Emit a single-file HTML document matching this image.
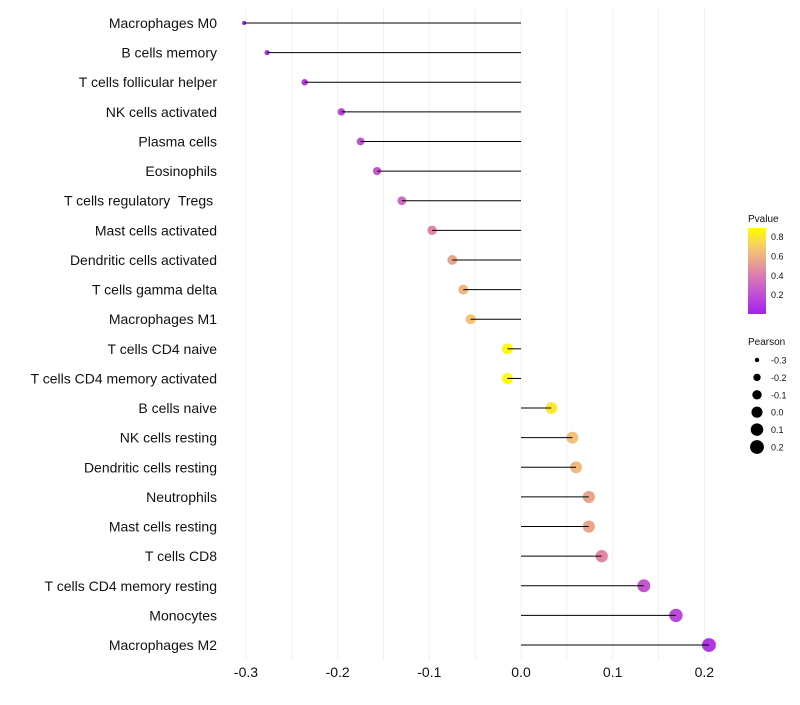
<!DOCTYPE html>
<html><head><meta charset="utf-8"><style>
body{margin:0;background:#fff;font-family:"Liberation Sans",sans-serif}
svg text{font-family:"Liberation Sans",sans-serif;white-space:pre}
</style></head><body>
<svg id="chart" width="800" height="700" xmlns="http://www.w3.org/2000/svg">
<g id="grid"></g>
<g id="points"></g>
<g id="stems"></g>
<g id="ylabels"></g>
<g id="xlabels"></g>
<g id="legend"></g>
</svg>
<script>
const categories=["Macrophages M0","B cells memory","T cells follicular helper","NK cells activated","Plasma cells","Eosinophils","T cells regulatory  Tregs ","Mast cells activated","Dendritic cells activated","T cells gamma delta","Macrophages M1","T cells CD4 naive","T cells CD4 memory activated","B cells naive","NK cells resting","Dendritic cells resting","Neutrophils","Mast cells resting","T cells CD8","T cells CD4 memory resting","Monocytes","Macrophages M2"];
const pearson=[-0.302,-0.277,-0.236,-0.196,-0.175,-0.157,-0.130,-0.097,-0.075,-0.063,-0.055,-0.015,-0.015,0.033,0.056,0.060,0.074,0.074,0.088,0.134,0.169,0.205];
const pvalue=[0.03,0.08,0.12,0.18,0.22,0.24,0.33,0.45,0.55,0.62,0.67,0.87,0.88,0.80,0.66,0.63,0.55,0.55,0.45,0.24,0.18,0.10];
const xTicks=[-0.3,-0.2,-0.1,0.0,0.1,0.2];
const pTicks=[0.2,0.4,0.6,0.8];
const sizeTicks=[-0.3,-0.2,-0.1,0.0,0.1,0.2];

const NS="http://www.w3.org/2000/svg";
function mk(tag,attrs,parent){const e=document.createElementNS(NS,tag);for(const k in attrs)e.setAttribute(k,attrs[k]);parent.appendChild(e);return e;}
const x=v=>521+(v-0)*916.7;
const y=i=>23+i*29.62;
const rad=v=>{const a=(v+0.31)/(0.215+0.31);return Math.sqrt(4+a*45);};
const colorStops=[[0,[160,32,240]],[0.3,[205,100,200]],[0.45,[225,135,165]],[0.55,[232,165,140]],[0.67,[245,195,120]],[0.89,[255,255,0]]];
function col(p){
 p=Math.max(0,Math.min(0.89,p));
 for(let i=0;i<colorStops.length-1;i++){const [a,c1]=colorStops[i],[b,c2]=colorStops[i+1];if(p<=b){const t=(p-a)/(b-a);return `rgb(${c1.map((c,j)=>Math.round(c+(c2[j]-c)*t)).join(',')})`;}}
}
const grid=document.getElementById('grid');
for(let v=-0.3;v<=0.2001;v+=0.05){
 const l=mk('line',{x1:x(v),x2:x(v),y1:8,y2:660,stroke:'#f0f0f0','stroke-width':1},grid);
 
 
}
const pts=document.getElementById('points'),stems=document.getElementById('stems'),yl=document.getElementById('ylabels');
categories.forEach((c,i)=>{
 const d=mk('circle',{cx:x(pearson[i]),cy:y(i),r:rad(pearson[i]),fill:col(pvalue[i])},pts);
 
 
 const s=mk('line',{x1:x(0),x2:x(pearson[i]),y1:y(i),y2:y(i),stroke:'#000','stroke-width':1},stems);
 
 
 const t=mk('text',{x:217,y:y(i)+5,'text-anchor':'end','font-size':14,fill:'#111'},yl);
 t.textContent=c;
 
 
});
const xl=document.getElementById('xlabels');
xTicks.forEach(v=>{
 const t=mk('text',{x:x(v),y:677,'text-anchor':'middle','font-size':14,fill:'#111'},xl);
 t.textContent=v.toFixed(1);
 
 
});
const lg=document.getElementById('legend');
const defs=mk('defs',{},lg);
const gr=mk('linearGradient',{id:'pg',x1:0,y1:1,x2:0,y2:0},defs);
for(let k=0;k<=10;k++){const f=k/10;mk('stop',{offset:f,'stop-color':col(0.01+f*0.88)},gr);}
let t=mk('text',{x:748,y:222,'font-size':10,fill:'#111'},lg);t.textContent='Pvalue';


const bar=mk('rect',{x:748,y:228,width:18,height:86,fill:'url(#pg)'},lg);


const py=p=>313-(p-0.01)*(85/0.88);
pTicks.forEach(p=>{
 const tt=mk('text',{x:771,y:py(p)+3.5,'font-size':9,fill:'#111'},lg);tt.textContent=p.toFixed(1);
 
 
});
t=mk('text',{x:748,y:345,'font-size':10,fill:'#111'},lg);t.textContent='Pearson';


sizeTicks.forEach((v,i)=>{
 const cy=360+i*17.4;
 const c=mk('circle',{cx:757,cy:cy,r:rad(v),fill:'#000'},lg);
 
 
 const tt=mk('text',{x:771,y:cy+3.5,'font-size':9,fill:'#111'},lg);tt.textContent=v.toFixed(1);
 
 
});
</script>
</body></html>
